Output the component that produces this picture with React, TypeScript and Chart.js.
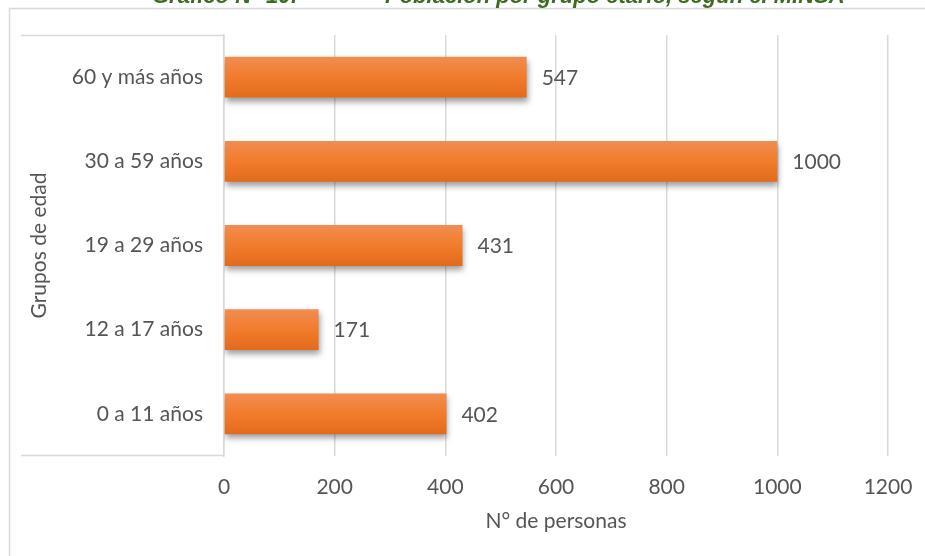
import React, { useEffect, useRef } from "react";
import { Chart, registerables } from "chart.js";

Chart.register(...registerables);

// ---- data ----
const categories = ["60 y más años", "30 a 59 años", "19 a 29 años", "12 a 17 años", "0 a 11 años"];
const values = [547, 1000, 431, 171, 402];
const xTickValues = [0, 200, 400, 600, 800, 1000, 1200];
const xAxisTitle = "N° de personas";
const yAxisTitle = "Grupos de edad";
const titleLead = "Gráfico N° 10:";
const titleMain = "Población por grupo etario, según el MINSA";

const FONT = "Lato, 'Open Sans', sans-serif";
const FS = 21;
const TEXT = "#555555";
const GRID = "#d9d9d9";

const decorPlugin = {
  id: "decor",
  beforeDraw(chart: any) {
    const { ctx, chartArea } = chart;
    ctx.save();
    ctx.strokeStyle = GRID;
    ctx.lineWidth = 1.5;
    ctx.beginPath();
    ctx.moveTo(9.5, 600);
    ctx.lineTo(9.5, 8.5);
    ctx.lineTo(940, 8.5);
    ctx.stroke();
    ctx.beginPath();
    ctx.moveTo(21, chartArea.top + 0.5);
    ctx.lineTo(chartArea.left, chartArea.top + 0.5);
    ctx.moveTo(21, chartArea.bottom - 0.5);
    ctx.lineTo(chartArea.left, chartArea.bottom - 0.5);
    ctx.stroke();
    ctx.restore();
  },
  beforeDatasetsDraw(chart: any) {
    const { ctx } = chart;
    ctx.save();
    ctx.shadowColor = "rgba(0,0,0,0.38)";
    ctx.shadowBlur = 6;
    ctx.shadowOffsetX = 1;
    ctx.shadowOffsetY = 4;
  },
  afterDatasetsDraw(chart: any) {
    const { ctx } = chart;
    ctx.restore();
    ctx.save();
    ctx.fillStyle = TEXT;
    ctx.font = `${FS}px ${FONT}`;
    ctx.textBaseline = "middle";
    ctx.textAlign = "left";
    const meta = chart.getDatasetMeta(0);
    meta.data.forEach((el: any, i: number) => {
      const v = chart.data.datasets[0].data[i];
      ctx.fillText(String(v), el.x + 15, el.y + 1);
    });
    ctx.restore();
  },
};

function ChartView() {
  const ref = useRef<HTMLCanvasElement | null>(null);
  useEffect(() => {
    let chart: Chart | null = null;
    let cancelled = false;
    const make = () => {
      if (cancelled || !ref.current) return;
      chart = new Chart(ref.current, {
        type: "bar",
        data: {
          labels: categories,
          datasets: [
            {
              data: values,
              categoryPercentage: 1,
              barPercentage: 0.485,
              borderWidth: 0,
              backgroundColor: (c: any) => {
                const ch = c.chart;
                const ys = ch.scales && ch.scales.y;
                if (!ys || c.dataIndex === undefined) return "#f07b2c";
                const y = ys.getPixelForValue(c.dataIndex);
                if (!isFinite(y)) return "#f07b2c";
                const h = 20.5;
                const g = ch.ctx.createLinearGradient(0, y - h, 0, y + h);
                g.addColorStop(0, "#f18d52");
                g.addColorStop(0.5, "#f17c2b");
                g.addColorStop(1, "#e36a1c");
                return g;
              },
            },
          ],
        },
        options: {
          indexAxis: "y",
          animation: false,
          responsive: false,
          devicePixelRatio: 1,
          layout: { padding: { top: 35, right: 37, bottom: 0, left: 0 } },
          plugins: { legend: { display: false }, tooltip: { enabled: false }, title: { display: false } },
          scales: {
            x: {
              min: xTickValues[0],
              max: xTickValues[xTickValues.length - 1],
              afterBuildTicks: (s: any) => {
                s.ticks = xTickValues.map((v) => ({ value: v }));
              },
              afterFit: (s: any) => {
                s.height = 100;
                s.paddingLeft = 0;
                s.paddingRight = 0;
              },
              grid: { color: GRID, lineWidth: 1.5, drawTicks: false },
              border: { display: false },
              ticks: {
                color: TEXT,
                font: { family: FONT, size: FS },
                padding: 19,
                callback: (v: any) => String(v),
              },
              title: {
                display: true,
                text: xAxisTitle,
                color: TEXT,
                font: { family: FONT, size: FS },
                padding: { top: 0, bottom: 22 },
              },
            },
            y: {
              afterFit: (s: any) => {
                s.width = 224;
                s.paddingTop = 0;
                s.paddingBottom = 0;
              },
              grid: { display: false, drawTicks: false },
              border: { display: true, color: GRID, width: 1.5 },
              ticks: { color: TEXT, font: { family: FONT, size: FS }, padding: 21 },
              title: {
                display: true,
                text: yAxisTitle,
                color: TEXT,
                font: { family: FONT, size: FS },
                padding: { top: 27, bottom: 0 },
              },
            },
          },
        },
        plugins: [decorPlugin],
      } as any);
    };
    const fontsReady = (document as any).fonts
      ? Promise.all([(document as any).fonts.load(`${FS}px Lato`)]).catch(() => null)
      : Promise.resolve(null);
    fontsReady.then(make);
    return () => {
      cancelled = true;
      if (chart) chart.destroy();
    };
  }, []);
  return <canvas ref={ref} width={925} height={556} style={{ position: "absolute", left: 0, top: 0 }} />;
}

export default function App() {
  const titleStyle: React.CSSProperties = {
    position: "absolute",
    top: -16,
    fontFamily: "'Liberation Sans Narrow', 'Liberation Sans', Arial, sans-serif",
    fontWeight: "bold",
    fontStyle: "italic",
    fontSize: 22,
    lineHeight: "24px",
    color: "#3e6b23",
    whiteSpace: "nowrap",
  };
  return (
    <div style={{ position: "fixed", left: 0, top: 0, width: 925, height: 556, overflow: "hidden", background: "#fff" }}>
      <ChartView />
      <div style={{ ...titleStyle, left: 152 }}>{titleLead}</div>
      <div style={{ ...titleStyle, left: 385 }}>{titleMain}</div>
    </div>
  );
}
